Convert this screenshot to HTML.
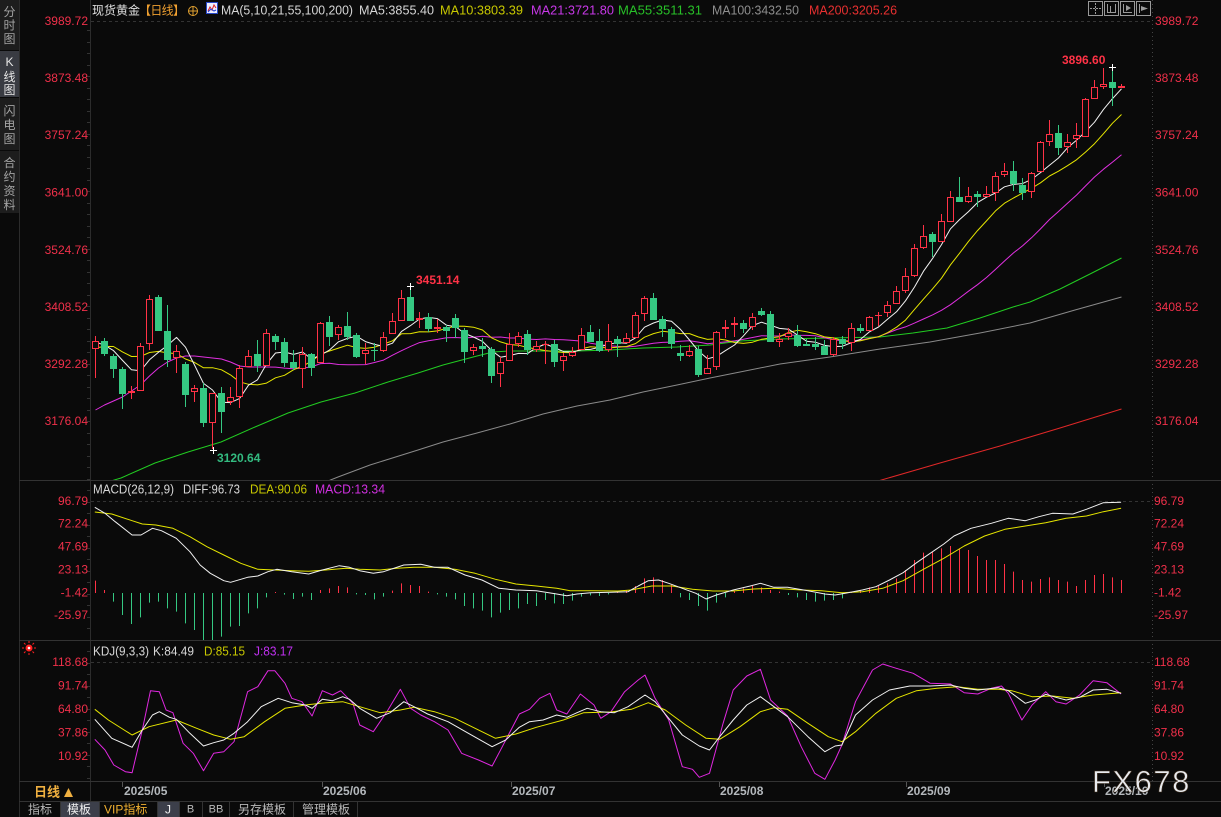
<!DOCTYPE html>
<html><head><meta charset="utf-8">
<style>
html,body{margin:0;padding:0;background:#0a0a0a;}
body{width:1221px;height:817px;overflow:hidden;position:relative;}
svg{position:absolute;left:0;top:0;}
text{font-family:"Liberation Sans","Noto Sans CJK SC",sans-serif;}
</style></head><body>
<svg id="s" width="1221" height="817" xmlns="http://www.w3.org/2000/svg">
<defs>
<clipPath id="cm"><rect x="91" y="0" width="1061" height="480"/></clipPath>
<clipPath id="cd"><rect x="91" y="482" width="1061" height="158"/></clipPath>
<clipPath id="ck"><rect x="91" y="642" width="1061" height="139"/></clipPath>
</defs>
<rect x="0" y="0" width="1221" height="817" fill="#0a0a0a"/>
<!-- sidebar -->
<rect x="0" y="0" width="19" height="50" fill="#1d1d1d"/>
<rect x="0" y="51" width="19" height="46" fill="#393b42"/>
<rect x="0" y="98" width="19" height="52" fill="#1d1d1d"/>
<rect x="0" y="151" width="19" height="62" fill="#1d1d1d"/>
<g font-size="12" fill="#a4a4a4" text-anchor="middle">
<text x="9.5" y="16">分</text><text x="9.5" y="29.5">时</text><text x="9.5" y="43">图</text>
<text x="9.5" y="66" fill="#e6e6e6" font-family="Liberation Serif">K</text><text x="9.5" y="81" fill="#e6e6e6">线</text><text x="9.5" y="94" fill="#e6e6e6">图</text>
<text x="9.5" y="115">闪</text><text x="9.5" y="129">电</text><text x="9.5" y="143">图</text>
<text x="9.5" y="167">合</text><text x="9.5" y="181">约</text><text x="9.5" y="195">资</text><text x="9.5" y="209">料</text>
</g>
<!-- frame lines -->
<line x1="19.5" y1="0" x2="19.5" y2="817" stroke="#2c2c2c"/>
<line x1="90.5" y1="0" x2="90.5" y2="801" stroke="#2c2c2c"/>
<line x1="1152.5" y1="0" x2="1152.5" y2="781" stroke="#444" stroke-dasharray="1 3"/>
<line x1="19" y1="480.5" x2="1221" y2="480.5" stroke="#333"/>
<line x1="19" y1="640.5" x2="1221" y2="640.5" stroke="#333"/>
<line x1="19" y1="781.5" x2="1221" y2="781.5" stroke="#333"/>
<line x1="19" y1="801.5" x2="1221" y2="801.5" stroke="#333"/>
<line x1="91" y1="21.5" x2="1152" y2="21.5" stroke="#333" stroke-dasharray="3 3"/>
<line x1="91" y1="501.5" x2="1152" y2="501.5" stroke="#333" stroke-dasharray="3 3"/>
<line x1="91" y1="662.5" x2="1152" y2="662.5" stroke="#333" stroke-dasharray="3 3"/>
<g id="ticks"></g>

<!-- header -->
<g font-size="12">
<text x="92" y="14.5" fill="#e0e0e0" textLength="48">现货黄金</text>
<text x="139" y="14.5" fill="#f0a030" textLength="46">【日线】</text>
<text x="221" y="14.5" fill="#d6d6d6" font-size="13" textLength="132" lengthAdjust="spacingAndGlyphs">MA(5,10,21,55,100,200)</text>
<text x="359" y="14.5" fill="#d6d6d6" font-size="13" textLength="75" lengthAdjust="spacingAndGlyphs">MA5:3855.40</text>
<text x="440" y="14.5" fill="#c8c800" font-size="13" textLength="83" lengthAdjust="spacingAndGlyphs">MA10:3803.39</text>
<text x="531" y="14.5" fill="#c838e8" font-size="13" textLength="83" lengthAdjust="spacingAndGlyphs">MA21:3721.80</text>
<text x="618" y="14.5" fill="#28c028" font-size="13" textLength="84" lengthAdjust="spacingAndGlyphs">MA55:3511.31</text>
<text x="712" y="14.5" fill="#8e8e8e" font-size="13" textLength="87" lengthAdjust="spacingAndGlyphs">MA100:3432.50</text>
<text x="809" y="14.5" fill="#e83030" font-size="13" textLength="88" lengthAdjust="spacingAndGlyphs">MA200:3205.26</text>
</g>
<circle cx="193" cy="11" r="4.5" fill="none" stroke="#e0a030"/>
<line x1="188" y1="11" x2="198" y2="11" stroke="#e0a030"/><line x1="193" y1="6" x2="193" y2="16" stroke="#e0a030"/>
<rect x="206.5" y="2.5" width="11" height="11" fill="#eef" stroke="#2848c8"/>
<polyline points="208,11 210,7 212,10 214,5 216,8" fill="none" stroke="#e02020"/>
<polyline points="208,12 211,9 214,11 216,10" fill="none" stroke="#2040d0"/>
<!-- top right buttons -->
<g stroke="#9a9a9a" fill="none">
<rect x="1088.5" y="1.5" width="14" height="14"/>
<rect x="1104.5" y="1.5" width="14" height="14"/>
<rect x="1120.5" y="1.5" width="14" height="14"/>
<rect x="1136.5" y="1.5" width="14" height="14"/>
<line x1="1095.5" y1="3" x2="1095.5" y2="14" stroke-dasharray="2 1"/><line x1="1090" y1="8.5" x2="1101" y2="8.5" stroke-dasharray="2 1"/>
<line x1="1107.5" y1="4" x2="1107.5" y2="13"/><line x1="1115.5" y1="4" x2="1115.5" y2="13"/><line x1="1107" y1="12.5" x2="1116" y2="12.5"/><line x1="1110.5" y1="6" x2="1110.5" y2="12"/>
<line x1="1123.5" y1="4" x2="1123.5" y2="13"/><line x1="1123" y1="12.5" x2="1132" y2="12.5"/>
<line x1="1139.5" y1="4" x2="1139.5" y2="13"/>
</g>
<polygon points="1126,5 1126,11 1131,8" fill="#9a9a9a"/>
<polygon points="1141,6 1141,11 1148,8.5" fill="#9a9a9a"/>

<!-- axis labels -->
<g font-size="12" fill="#f0304a" dominant-baseline="central">
<g text-anchor="end">
<text x="88" y="21">3989.72</text><text x="88" y="78">3873.48</text><text x="88" y="135">3757.24</text><text x="88" y="192.5">3641.00</text><text x="88" y="250">3524.76</text><text x="88" y="307">3408.52</text><text x="88" y="364">3292.28</text><text x="88" y="421">3176.04</text>
<text x="88" y="501">96.79</text><text x="88" y="523.5">72.24</text><text x="88" y="546.5">47.69</text><text x="88" y="569.5">23.13</text><text x="88" y="592.5">-1.42</text><text x="88" y="615">-25.97</text>
<text x="88" y="662">118.68</text><text x="88" y="685.5">91.74</text><text x="88" y="709">64.80</text><text x="88" y="732.5">37.86</text><text x="88" y="756">10.92</text>
</g>
<text x="1155" y="21">3989.72</text><text x="1155" y="78">3873.48</text><text x="1155" y="135">3757.24</text><text x="1155" y="192.5">3641.00</text><text x="1155" y="250">3524.76</text><text x="1155" y="307">3408.52</text><text x="1155" y="364">3292.28</text><text x="1155" y="421">3176.04</text>
<text x="1154" y="501">96.79</text><text x="1154" y="523.5">72.24</text><text x="1154" y="546.5">47.69</text><text x="1154" y="569.5">23.13</text><text x="1154" y="592.5">-1.42</text><text x="1154" y="615">-25.97</text>
<text x="1154" y="662">118.68</text><text x="1154" y="685.5">91.74</text><text x="1154" y="709">64.80</text><text x="1154" y="732.5">37.86</text><text x="1154" y="756">10.92</text>
</g>

<!-- legends -->
<g font-size="13" dominant-baseline="central" lengthAdjust="spacingAndGlyphs">
<text x="93" y="489" fill="#d8d8d8" textLength="81" lengthAdjust="spacingAndGlyphs">MACD(26,12,9)</text>
<text x="183" y="489" fill="#d8d8d8" textLength="57" lengthAdjust="spacingAndGlyphs">DIFF:96.73</text>
<text x="250" y="489" fill="#c8c800" textLength="57" lengthAdjust="spacingAndGlyphs">DEA:90.06</text>
<text x="315" y="489" fill="#d030e0" textLength="70" lengthAdjust="spacingAndGlyphs">MACD:13.34</text>
<text x="93" y="651" fill="#d8d8d8" textLength="56" lengthAdjust="spacingAndGlyphs">KDJ(9,3,3)</text>
<text x="153" y="651" fill="#d8d8d8" textLength="41" lengthAdjust="spacingAndGlyphs">K:84.49</text>
<text x="204" y="651" fill="#c8c800" textLength="41" lengthAdjust="spacingAndGlyphs">D:85.15</text>
<text x="254" y="651" fill="#c030f0" textLength="39" lengthAdjust="spacingAndGlyphs">J:83.17</text>
</g>
<!-- sun icon -->
<g stroke="#ff2020">
<line x1="29" y1="641" x2="29" y2="643"/><line x1="29" y1="653" x2="29" y2="655"/>
<line x1="22" y1="648" x2="24" y2="648"/><line x1="34" y1="648" x2="36" y2="648"/>
<line x1="24" y1="643" x2="25.5" y2="644.5"/><line x1="32.5" y1="651.5" x2="34" y2="653"/>
<line x1="34" y1="643" x2="32.5" y2="644.5"/><line x1="24" y1="653" x2="25.5" y2="651.5"/>
</g>
<circle cx="29" cy="648" r="3.5" fill="#ff2020"/><circle cx="29" cy="648" r="1.3" fill="#fff"/>

<g id="plot"></g>

<!-- extreme labels -->
<g font-size="12" font-weight="bold" dominant-baseline="central">
<text x="1062" y="60" fill="#ff3246">3896.60</text>
<text x="416" y="280" fill="#ff3246">3451.14</text>
<text x="217" y="458" fill="#33bb80">3120.64</text>
</g>
<g stroke="#fff">
<line x1="1109" y1="67.5" x2="1116" y2="67.5"/><line x1="1112.5" y1="64" x2="1112.5" y2="71"/>
<line x1="407" y1="286.5" x2="414" y2="286.5"/><line x1="410.5" y1="283" x2="410.5" y2="290"/>
<line x1="210" y1="450.5" x2="217" y2="450.5"/><line x1="213.5" y1="447" x2="213.5" y2="454"/>
</g>

<!-- date axis -->
<text x="34" y="792" font-size="13" font-weight="bold" fill="#f0b040" dominant-baseline="central">日线</text>
<polygon points="64,797 73,797 68.5,788" fill="#f0b040"/>
<g stroke="#555">
<line x1="122.5" y1="782" x2="122.5" y2="787"/><line x1="322.5" y1="782" x2="322.5" y2="787"/><line x1="511.5" y1="782" x2="511.5" y2="787"/><line x1="719.5" y1="782" x2="719.5" y2="787"/><line x1="906.5" y1="782" x2="906.5" y2="787"/><line x1="1104.5" y1="782" x2="1104.5" y2="787"/>
</g>
<g font-size="12" font-weight="bold" fill="#b4b8bc" dominant-baseline="central">
<text x="124" y="791">2025/05</text><text x="323" y="791">2025/06</text><text x="512" y="791">2025/07</text><text x="720" y="791">2025/08</text><text x="907" y="791">2025/09</text><text x="1105" y="791">2025/10</text>
</g>
<!-- bottom toolbar -->
<rect x="60" y="802" width="39" height="15" fill="#3c3f4a"/>
<rect x="157" y="802" width="22" height="15" fill="#3c3f4a"/>
<g stroke="#333">
<line x1="60.5" y1="802" x2="60.5" y2="817"/><line x1="99.5" y1="802" x2="99.5" y2="817"/><line x1="157.5" y1="802" x2="157.5" y2="817"/><line x1="179.5" y1="802" x2="179.5" y2="817"/><line x1="202.5" y1="802" x2="202.5" y2="817"/><line x1="229.5" y1="802" x2="229.5" y2="817"/><line x1="293.5" y1="802" x2="293.5" y2="817"/><line x1="357.5" y1="802" x2="357.5" y2="817"/>
</g>
<g font-size="12" fill="#b8b8b8" dominant-baseline="central">
<text x="28" y="809.5">指标</text>
<text x="67" y="809.5" fill="#f0f0f0">模板</text>
<text x="104" y="809.5" fill="#f0b030">VIP指标</text>
<text x="168" y="809.5" fill="#f0f0f0" text-anchor="middle" font-family="Liberation Mono">J</text>
<text x="190.5" y="809.5" text-anchor="middle" font-family="Liberation Mono" font-size="11">B</text>
<text x="216" y="809.5" text-anchor="middle" font-family="Liberation Mono" font-size="11">BB</text>
<text x="238" y="809.5">另存模板</text>
<text x="302" y="809.5">管理模板</text>
</g>
<!-- watermark -->
<text x="1092" y="792" font-size="31" fill="#e8eaee" letter-spacing="1.5" stroke="#3a2a1a" stroke-width="0.6">FX678</text>
</svg>
<script>
(function(){
const NS='http://www.w3.org/2000/svg';
const plot=document.getElementById('plot');
function el(tag,a,p){const e=document.createElementNS(NS,tag);for(const k in a)e.setAttribute(k,a[k]);(p||plot).appendChild(e);return e;}
// axis ticks
const tk=document.getElementById('ticks');
for(let y=30;y<780;y+=11.5){el('line',{x1:87,y1:Math.round(y)+0.5,x2:90,y2:Math.round(y)+0.5,stroke:'#333'},tk);}
const R='#ff3246',G='#35c882';
const C=[
[1,341,349,336,378],[0,341,354,338,356],[0,356,369,354,378],[0,369,394,367,409],[1,391,393,386,399],
[1,346,391,343,391],[1,299,344,295,350],[0,297,331,295,331],[0,331,360,305,367],[1,351,358,345,373],
[0,364,395,362,407],[1,388,392,385,402],[0,388,423,383,427],[1,393,423,393,449],[0,393,412,387,433],
[1,397,402,387,405],[1,368,397,365,408],[1,356,367,350,367],[0,354,366,340,372],[1,333,366,329,366],
[0,336,342,334,350],[0,342,363,338,367],[0,362,368,350,370],[1,354,369,347,388],[0,354,368,353,376],
[1,323,363,322,363],[0,322,337,316,346],[1,327,335,325,340],[0,326,337,312,340],[0,335,357,333,358],
[1,350,354,343,364],[0,350,351,343,361],[1,337,351,332,352],[1,321,334,313,334],[1,298,321,290,321],
[0,297,321,286,321],[1,318,320,312,328],[0,317,329,313,332],[1,327,329,319,333],[0,327,331,325,342],
[0,318,328,314,338],[0,330,352,328,363],[1,347,351,344,355],[0,346,349,338,357],[0,349,376,347,383],
[1,362,374,357,387],[1,344,361,333,361],[1,336,344,332,347],[0,334,350,330,355],[1,346,350,341,352],
[1,344,345,341,364],[0,344,362,340,367],[1,356,361,353,371],[1,352,356,347,357],[1,335,350,328,350],
[0,332,342,325,342],[0,341,351,329,352],[1,341,350,324,352],[0,339,344,336,357],[1,338,343,333,343],
[1,315,338,312,338],[1,298,314,296,321],[0,298,320,293,320],[0,319,329,316,337],[0,329,344,327,349],
[0,353,356,345,361],[1,351,356,345,357],[0,349,375,346,377],[1,368,374,355,374],[1,332,367,331,370],
[1,327,329,320,338],[1,323,325,317,337],[0,323,329,320,333],[1,317,327,313,330],[0,311,315,308,316],
[0,314,342,311,342],[1,339,342,333,347],[1,333,337,328,340],[0,335,346,325,347],[0,344,346,339,346],
[0,344,347,337,350],[0,346,355,340,355],[1,339,355,337,356],[0,339,344,336,349],[1,328,343,323,351],
[0,328,331,324,333],[1,317,331,316,331],[1,315,316,312,326],[1,305,313,301,317],[1,291,304,286,304],
[1,276,291,268,293],[1,248,276,244,277],[1,236,248,225,249],[0,234,242,232,257],[1,221,242,214,242],
[1,197,222,191,222],[0,197,202,177,202],[1,196,202,187,203],[0,194,197,191,207],[1,194,197,186,197],
[1,176,193,172,201],[1,171,175,163,177],[0,171,184,161,191],[0,185,193,178,200],[1,173,192,172,198],
[1,142,172,141,172],[1,134,142,120,146],[0,133,148,125,155],[1,142,147,134,153],[1,135,139,123,148],
[1,99,137,98,137],[1,87,99,80,99],[1,84,87,68,89],[0,82,88,67,106],[1,86,88,84,88]
];
const gm=el('g',{'clip-path':'url(#cm)'});
function poly(pts,col,g){el('polyline',{points:pts.map(p=>p[0].toFixed(1)+','+p[1].toFixed(1)).join(' '),fill:'none',stroke:col,'stroke-width':1,'stroke-linejoin':'round'},g);}
// hand-drawn long MAs (drawn first, under candles)
poly([[91,487],[121,478],[155,463],[188,452],[221,442],[255,427],[288,413],[321,402],[355,393],[388,382],[418,373],[443,365],[477,356],[493,352],[510,351],[543,351],[577,351],[610,350],[643,348],[677,347],[710,345],[740,341],[780,339],[830,338],[880,337],[913,333],[947,328],[980,318],[1013,307],[1030,302],[1060,289],[1090,274],[1121.5,258]],'#22cc22',gm);
poly([[328,481],[338,477],[370,465],[418,450],[443,442],[477,433],[510,424],[543,414],[577,406],[610,400],[643,392],[677,385],[710,378],[740,372],[780,364],[830,357],[880,349],[930,342],[980,333],[1030,323],[1075,310],[1121.5,297]],'#8a8a8a',gm);
poly([[878,481],[940,463],[1000,446],[1060,428],[1121.5,409]],'#e02828',gm);
// computed MAs
const cl=C.map(c=>c[0]?c[1]:c[2]);
const all=[370,368,340,345,347,338,342,345,344].concat(cl);
function ma(n,i){let s=0;for(let k=0;k<n;k++)s+=all[i+9-k];return s/n;}
const m21h=[410,405,401,397,391,385,376,368,362,358,356,356,357,358,359,362,366,367,367,367];
const p5=[],p10=[],p21=[];
C.forEach((c,i)=>{const x=95.5+9*i;p5.push([x,ma(5,i)]);p10.push([x,ma(10,i)]);p21.push([x,i<20?m21h[i]:ma(21,i)]);});
poly(p21,'#e030e0',gm);
poly(p10,'#e6e600',gm);
poly(p5,'#f2f2f2',gm);
// candles
C.forEach((c,i)=>{const cx=95+9*i,x=cx+0.5;const t=c[0],bt=c[1],bb=c[2],wt=c[3],wb=c[4];
 if(t){
  if(wt<bt)el('line',{x1:x,y1:wt,x2:x,y2:bt,stroke:R},gm);
  if(wb>bb)el('line',{x1:x,y1:bb,x2:x,y2:wb,stroke:R},gm);
  const h=bb-bt;
  if(h<=1)el('line',{x1:cx-3,y1:bt+0.5,x2:cx+4,y2:bt+0.5,stroke:R},gm);
  else el('rect',{x:cx-2.5,y:bt+0.5,width:6,height:h-1,fill:'#0a0a0a',stroke:R},gm);
 }else{
  el('line',{x1:x,y1:wt,x2:x,y2:wb,stroke:G},gm);
  el('rect',{x:cx-3,y:bt,width:7,height:Math.max(bb-bt,1),fill:G},gm);
 }
});
// MACD
const gd=el('g',{'clip-path':'url(#cd)'});
const H=[302,330,365,405,432,412,368,365,385,395,430,450,480,480,470,440,438,400,385,352,336,344,357,350,360,330,325,318,322,343,345,358,350,332,310,315,318,335,343,350,358,378,385,392,412,398,390,385,372,378,360,370,372,362,350,346,348,343,336,330,318,295,292,300,315,352,360,378,392,368,352,332,325,318,322,330,335,345,352,360,365,362,360,355,336,330,322,318,310,295,270,240,218,215,205,198,205,210,228,240,240,252,275,300,305,297,292,300,305,318,300,285,282,292,300];
H.forEach((v,i)=>{const x=95.5+9*i;const y=480+v/3;el('line',{x1:x,y1:593,x2:x,y2:y,stroke:v<340?R:G},gd);});
function cv(a,oy){return a.map(p=>[88+p[0]/1.4723,oy+p[1]/3]);}
const DEA=[[10,96],[35,102],[65,122],[80,132],[100,135],[125,145],[150,170],[175,200],[200,225],[225,250],[250,268],[275,270],[300,272],[325,274],[350,270],[380,265],[400,268],[430,270],[455,265],[480,262],[510,262],[540,268],[570,280],[600,298],[630,312],[660,318],[690,325],[710,332],[740,332],[780,333],[800,330],[830,318],[860,318],[890,328],[920,333],[950,333],[980,327],[1010,325],[1050,330],[1080,332],[1110,338],[1140,335],[1170,325],[1200,302],[1230,268],[1260,235],[1290,198],[1320,168],[1350,148],[1380,138],[1410,128],[1440,115],[1470,108],[1495,95],[1521,85]];
const DIF=[[10,82],[25,100],[40,125],[65,165],[78,165],[95,145],[108,152],[130,175],[150,215],[165,255],[180,280],[200,302],[210,307],[235,292],[250,288],[265,275],[278,268],[300,275],[325,282],[345,270],[370,257],[385,262],[400,272],[420,280],[435,275],[465,255],[490,253],[510,262],[530,262],[555,285],[580,300],[605,325],[630,330],[660,332],[690,342],[705,347],[720,342],[740,338],[770,337],[795,335],[810,318],[825,302],[840,300],[855,310],[875,325],[895,340],[910,357],[925,345],[950,330],[975,318],[990,310],[1010,322],[1030,322],[1060,332],[1085,342],[1100,345],[1115,340],[1140,330],[1160,320],[1180,300],[1200,278],[1220,248],[1240,220],[1260,192],[1275,168],[1300,145],[1330,130],[1355,115],[1380,122],[1400,110],[1420,100],[1450,102],[1470,88],[1495,68],[1521,67]];
poly(cv(DEA,480),'#e6e600',gd);
poly(cv(DIF,480),'#f2f2f2',gd);
// KDJ
const gk=el('g',{'clip-path':'url(#ck)'});
const K=[[10,238],[35,295],[65,322],[80,270],[95,225],[105,215],[120,232],[130,238],[150,280],[170,318],[185,308],[200,300],[215,280],[235,245],[255,200],[280,175],[300,188],[320,195],[330,205],[345,178],[360,182],[375,170],[385,178],[400,205],[425,235],[445,218],[465,185],[480,200],[500,222],[530,245],[560,280],[595,320],[615,300],[635,262],[650,245],[670,240],[690,225],[705,232],[720,218],[735,205],[755,215],[775,218],[795,200],[820,165],[835,185],[855,235],[875,285],[900,318],[915,330],[930,290],[950,240],[970,195],[990,170],[1010,200],[1030,230],[1060,290],[1085,335],[1100,318],[1110,315],[1130,225],[1155,180],[1180,150],[1210,138],[1240,138],[1270,135],[1290,145],[1310,150],[1340,143],[1355,152],[1380,190],[1395,180],[1410,163],[1425,172],[1440,180],[1460,172],[1480,150],[1500,148],[1521,160]];
const D=[[10,208],[30,240],[65,285],[90,260],[130,240],[160,265],[185,285],[210,298],[230,290],[260,245],[290,205],[320,195],[350,188],[375,185],[400,200],[430,218],[460,210],[480,202],[510,215],[540,235],[570,265],[600,295],[630,282],[660,262],[700,240],[730,218],[770,216],[800,208],[825,188],[850,210],[880,255],[910,295],[930,298],[960,260],[990,215],[1010,203],[1030,208],[1060,250],[1090,290],[1110,305],[1130,275],[1160,220],[1190,175],[1220,152],[1250,145],[1280,140],[1310,148],[1340,148],[1360,152],[1390,170],[1420,168],[1450,175],[1480,165],[1521,158]];
const J=[[10,298],[25,330],[38,375],[55,395],[65,398],[80,270],[92,152],[105,155],[115,210],[125,218],[140,310],[155,340],[170,392],[185,340],[200,335],[215,305],[235,155],[250,140],[265,92],[275,92],[290,130],[300,175],[315,185],[330,228],[345,152],[360,165],[372,152],[390,190],[400,255],[420,275],[440,215],[460,148],[475,205],[490,225],[510,245],[530,270],[550,340],[575,360],[595,378],[610,320],[635,222],[650,208],[665,175],[680,160],[690,210],[705,222],[725,162],[745,195],[755,235],[770,215],[790,155],[810,120],[820,105],[835,175],[855,240],[875,380],[890,388],[900,412],[915,400],[935,250],[950,150],[970,108],[990,88],[1005,180],[1030,228],[1050,320],[1070,400],[1085,418],[1100,360],[1110,315],[1130,185],[1155,90],[1170,72],[1190,85],[1215,100],[1240,130],[1270,132],[1290,158],[1310,162],[1330,145],[1345,138],[1355,160],[1375,240],[1390,195],[1410,155],[1425,185],[1440,192],[1460,165],[1480,122],[1500,128],[1521,162]];
poly(cv(J,640),'#e028e0',gk);
poly(cv(D,640),'#e6e600',gk);
poly(cv(K,640),'#f2f2f2',gk);
})();
</script>
</body></html>
